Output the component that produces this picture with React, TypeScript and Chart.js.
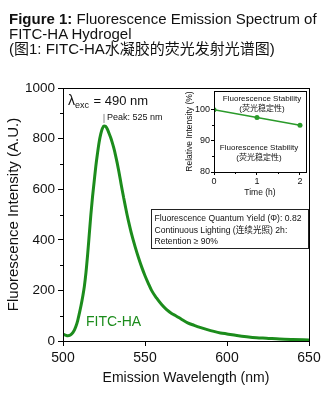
import React, { useEffect, useRef } from 'react';
import { Chart, registerables } from 'chart.js';

Chart.register(...registerables);

const FONT = "'Liberation Sans', Arial, 'Noto Sans CJK SC', sans-serif";
const GREEN = '#1c8c1c';

// Emission spectrum
const wavelengths = [500, 501, 502, 503, 504, 505, 506, 507, 508, 509, 510, 511, 512, 513, 514, 515, 516, 517, 518, 519, 520, 521, 522, 523, 524, 525, 526, 527, 528, 529, 530, 531, 532, 533, 534, 535, 536, 537, 538, 539, 540, 542, 544, 546, 548, 550, 552, 554, 557, 560, 563, 566, 569, 572, 576, 580, 584, 588, 592, 596, 600, 606, 612, 618, 624, 632, 640, 650];
const intensities = [27, 24, 22, 21, 22, 26, 33, 44, 60, 82, 110, 140, 175, 215, 270, 340, 420, 500, 570, 630, 690, 740, 785, 818, 840, 850, 848, 838, 822, 805, 785, 762, 735, 705, 672, 636, 600, 566, 533, 501, 472, 418, 372, 330, 292, 258, 228, 200, 170, 145, 125, 110, 99, 87, 72, 62, 53, 45, 38, 32, 28, 22, 17, 13, 11, 8, 6, 4];

const xTicksMain = [500, 550, 600, 650];
const yTicksMain = [0, 200, 400, 600, 800, 1000];
const yMinorMain = [100, 300, 500, 700, 900];

// Inset: fluorescence stability
const stabilityTime = [0, 1, 2];
const stabilityValues = [100, 97.5, 95];
const insetXTicks = [0, 1, 2];
const insetYTicks = [80, 90, 100];
const insetXMinor = [0.5, 1.5];
const insetYMinor = [85, 95];

const peakWavelength = 525;
const peakIntensity = 850;

const infoLines = [
  'Fluorescence Quantum Yield (Φ): 0.82',
  'Continuous Lighting (连续光照) 2h:',
  'Retention ≥ 90%',
];

const mainDecor = {
  id: 'mainDecor',
  beforeDraw(chart: any) {
    const { ctx, width, height } = chart;
    ctx.save();
    ctx.fillStyle = '#fff';
    ctx.fillRect(0, 0, width, height);
    ctx.restore();
  },
  afterDraw(chart: any) {
    const { ctx, chartArea: a, scales } = chart;
    const x = scales.x;
    const y = scales.y;
    ctx.save();
    ctx.strokeStyle = '#000';
    ctx.lineWidth = 1;
    ctx.strokeRect(Math.round(a.left) + 0.5, Math.round(a.top) + 0.5, Math.round(a.right - a.left), Math.round(a.bottom - a.top));
    // minor ticks
    ctx.beginPath();
    yMinorMain.forEach((v) => {
      const py = Math.round(y.getPixelForValue(v)) + 0.5;
      ctx.moveTo(a.left - 3, py);
      ctx.lineTo(a.left, py);
    });
    ctx.stroke();

    // peak marker
    const px = x.getPixelForValue(peakWavelength);
    const py = y.getPixelForValue(peakIntensity);
    ctx.strokeStyle = '#888';
    ctx.lineWidth = 1;
    ctx.beginPath();
    ctx.moveTo(px, py - 3);
    ctx.lineTo(px, py - 12);
    ctx.stroke();
    ctx.fillStyle = '#111';
    ctx.font = `9px ${FONT}`;
    ctx.textBaseline = 'middle';
    ctx.textAlign = 'left';
    ctx.fillText('Peak: 525 nm', px + 3, py - 8);

    // lambda exc
    const lx = a.left + 5;
    const lb = a.top + 17;
    ctx.font = `14px ${FONT}`;
    ctx.textBaseline = 'alphabetic';
    ctx.fillText('λ', lx, lb);
    const lw = ctx.measureText('λ').width;
    ctx.font = `9px ${FONT}`;
    ctx.fillText('exc', lx + lw, lb + 3);
    const ew = ctx.measureText('exc').width;
    ctx.font = `13px ${FONT}`;
    ctx.fillText(' = 490 nm', lx + lw + ew + 1, lb);

    // FITC-HA label
    ctx.fillStyle = GREEN;
    ctx.font = `14px ${FONT}`;
    ctx.textBaseline = 'middle';
    ctx.fillText('FITC-HA', x.getPixelForValue(514), y.getPixelForValue(75));

    // info box
    const bx = a.right - 158;
    const by = a.top + 121;
    const bw = 157;
    const bh = 39;
    ctx.fillStyle = '#fff';
    ctx.fillRect(bx, by, bw, bh);
    ctx.strokeStyle = '#222';
    ctx.strokeRect(Math.round(bx) + 0.5, Math.round(by) + 0.5, bw, bh);
    ctx.fillStyle = '#111';
    ctx.font = `8.6px ${FONT}`;
    infoLines.forEach((t, i) => {
      ctx.fillText(t, bx + 3.5, by + 9.5 + i * 11.7);
    });
    ctx.restore();
  },
};

const insetDecor = {
  id: 'insetDecor',
  beforeDraw(chart: any) {
    const { ctx, chartArea: a } = chart;
    ctx.save();
    ctx.fillStyle = '#fff';
    ctx.fillRect(a.left, a.top, a.right - a.left, a.bottom - a.top);
    ctx.restore();
  },
  afterDraw(chart: any) {
    const { ctx, chartArea: a, scales } = chart;
    const x = scales.x;
    const y = scales.y;
    ctx.save();
    ctx.strokeStyle = '#000';
    ctx.lineWidth = 1;
    ctx.strokeRect(Math.round(a.left) + 0.5, Math.round(a.top) + 0.5, Math.round(a.right - a.left), Math.round(a.bottom - a.top));
    ctx.beginPath();
    insetYMinor.forEach((v) => {
      const py = Math.round(y.getPixelForValue(v)) + 0.5;
      ctx.moveTo(a.left - 2, py);
      ctx.lineTo(a.left, py);
    });
    insetXMinor.forEach((v) => {
      const px = Math.round(x.getPixelForValue(v)) + 0.5;
      ctx.moveTo(px, a.bottom);
      ctx.lineTo(px, a.bottom + 2);
    });
    ctx.stroke();
    ctx.fillStyle = '#111';
    ctx.font = `8px ${FONT}`;
    ctx.textAlign = 'center';
    ctx.textBaseline = 'middle';
    const cx1 = a.left + 48;
    ctx.fillText('Fluorescence Stability', cx1, a.top + 7.5);
    ctx.fillText('(荧光稳定性)', cx1, a.top + 18);
    const cx2 = a.left + 45;
    ctx.fillText('Fluorescence Stability', cx2, a.top + 56.5);
    ctx.fillText('(荧光稳定性)', cx2, a.top + 66.5);
    ctx.restore();
  },
};

export default function App() {
  const mainRef = useRef<HTMLCanvasElement>(null);
  const insetRef = useRef<HTMLCanvasElement>(null);

  useEffect(() => {
    Chart.defaults.font.family = FONT;
    Chart.defaults.color = '#111';
    const mainChart = new Chart(mainRef.current as HTMLCanvasElement, {
      type: 'line',
      data: {
        datasets: [
          {
            data: wavelengths.map((w, i) => ({ x: w, y: intensities[i] })),
            borderColor: GREEN,
            borderWidth: 3,
            pointRadius: 0,
            cubicInterpolationMode: 'monotone',
            fill: false,
          },
        ],
      },
      options: {
        responsive: false,
        animation: false,
        devicePixelRatio: 1,
        layout: { padding: { top: 88, right: 19, left: 0, bottom: 0 } },
        plugins: { legend: { display: false }, tooltip: { enabled: false }, title: { display: false } },
        scales: {
          x: {
            type: 'linear',
            min: 500,
            max: 650,
            afterBuildTicks: (s: any) => { s.ticks = xTicksMain.map((v) => ({ value: v })); },
            afterFit: (s: any) => { s.height = 52; },
            ticks: { font: { size: 14 }, color: '#111', padding: 4, maxRotation: 0, callback: (v: any) => String(v) },
            grid: { display: true, drawOnChartArea: false, drawTicks: true, tickLength: 5, color: '#000' },
            border: { display: true, color: '#000', width: 1 },
            title: { display: true, text: 'Emission Wavelength (nm)', font: { size: 14 }, color: '#111', padding: { top: 0, bottom: 6 } },
          },
          y: {
            type: 'linear',
            min: 0,
            max: 1000,
            afterBuildTicks: (s: any) => { s.ticks = yTicksMain.map((v) => ({ value: v })); },
            afterFit: (s: any) => { s.width = 63; },
            ticks: { font: { size: 13.5 }, color: '#111', padding: 3, callback: (v: any) => String(v) },
            grid: { display: true, drawOnChartArea: false, drawTicks: true, tickLength: 5, color: '#000' },
            border: { display: true, color: '#000', width: 1 },
            title: { display: true, text: 'Fluorescence Intensity (A.U.)', font: { size: 15 }, color: '#111', padding: { top: 5, bottom: 0 } },
          },
        },
      },
      plugins: [mainDecor],
    } as any);

    const insetChart = new Chart(insetRef.current as HTMLCanvasElement, {
      type: 'line',
      data: {
        datasets: [
          {
            data: stabilityTime.map((t, i) => ({ x: t, y: stabilityValues[i] })),
            borderColor: '#2a9a2a',
            backgroundColor: '#2a9a2a',
            borderWidth: 1.5,
            pointRadius: 2.5,
            pointBorderWidth: 0,
            fill: false,
          },
        ],
      },
      options: {
        responsive: false,
        animation: false,
        devicePixelRatio: 1,
        layout: { padding: { top: 9, right: 14, left: 0, bottom: 0 } },
        plugins: { legend: { display: false }, tooltip: { enabled: false } },
        scales: {
          x: {
            type: 'linear',
            min: 0,
            max: 2.14,
            afterBuildTicks: (s: any) => { s.ticks = insetXTicks.map((v) => ({ value: v })); },
            afterFit: (s: any) => { s.height = 28; },
            ticks: { font: { size: 9 }, color: '#111', padding: 1, maxRotation: 0 },
            grid: { display: true, drawOnChartArea: false, drawTicks: true, tickLength: 3, color: '#000' },
            border: { display: true, color: '#000', width: 1 },
            title: { display: true, text: 'Time (h)', font: { size: 8.5 }, color: '#111', padding: { top: 0, bottom: 2 } },
          },
          y: {
            type: 'linear',
            min: 80,
            max: 106,
            afterBuildTicks: (s: any) => { s.ticks = insetYTicks.map((v) => ({ value: v })); },
            afterFit: (s: any) => { s.width = 54; },
            ticks: { font: { size: 9 }, color: '#111', padding: 1 },
            grid: { display: true, drawOnChartArea: false, drawTicks: true, tickLength: 3, color: '#000' },
            border: { display: true, color: '#000', width: 1 },
            title: { display: true, text: 'Relative Intensity (%)', font: { size: 8.5 }, color: '#111', padding: { top: 25, bottom: 0 } },
          },
        },
      },
      plugins: [insetDecor],
    } as any);

    return () => {
      mainChart.destroy();
      insetChart.destroy();
    };
  }, []);

  return (
    <div style={{ position: 'absolute', left: 0, top: 0, width: 328, height: 393, background: '#fff', overflow: 'hidden' }}>
      <canvas ref={mainRef} width={328} height={393} style={{ position: 'absolute', left: 0, top: 0, width: 328, height: 393 }} />
      <canvas ref={insetRef} width={160} height={118} style={{ position: 'absolute', left: 160, top: 82, width: 160, height: 118 }} />
      <div
        style={{
          position: 'absolute',
          left: 9,
          top: 11,
          fontFamily: FONT,
          fontSize: 15,
          lineHeight: '15px',
          color: '#111',
          whiteSpace: 'nowrap',
        }}
      >
        <div><b>Figure 1:</b> Fluorescence Emission Spectrum of</div>
        <div>FITC-HA Hydrogel</div>
        <div>(图1: FITC-HA水凝胶的荧光发射光谱图)</div>
      </div>
    </div>
  );
}
